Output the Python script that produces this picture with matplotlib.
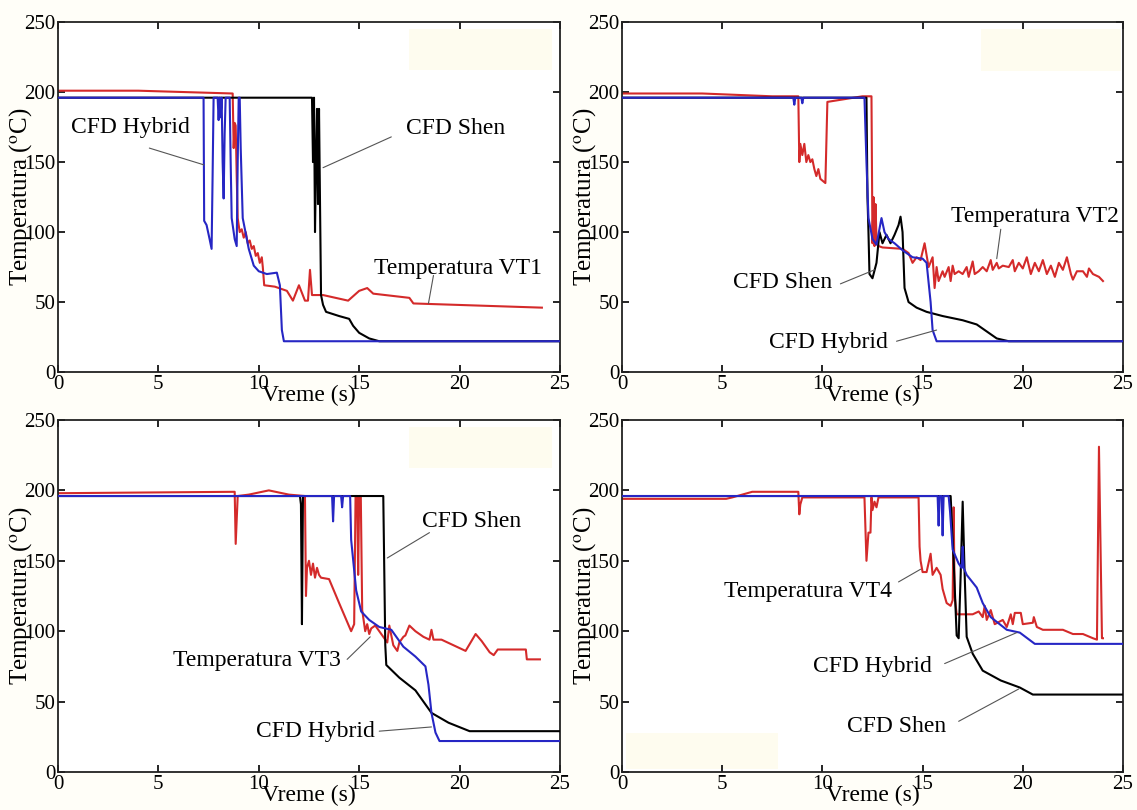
import numpy as np
import matplotlib
matplotlib.use('Agg')
import matplotlib.pyplot as plt
from matplotlib.patches import Rectangle

plt.rcParams['font.family'] = ['Liberation Serif', 'DejaVu Serif']
plt.rcParams['mathtext.fontset'] = 'stix'

# ---- panel 1 (VT1) ----
t1_red = [0, 4, 8.7, 8.75, 8.8, 8.85, 8.9, 8.95, 9.05, 9.15, 9.25, 9.35, 9.45, 9.55, 9.65, 9.75,
          9.85, 9.95, 10.05, 10.15, 10.2, 10.27, 10.8, 11.4, 11.7, 12.0, 12.3, 12.45, 12.55, 12.65,
          13.2, 14.45, 15.0, 15.4, 15.7, 17.5, 17.7, 24.1]
y1_red = [201, 201, 199, 160, 178, 176, 140, 110, 100, 102, 96, 100, 92, 94, 88, 90,
          83, 85, 78, 82, 75, 62, 61, 58, 51, 62, 51, 51, 73, 55,
          55, 51, 58, 60, 56, 53, 49, 46]
t1_blue = [0, 7.25, 7.28, 7.4, 7.55, 7.65, 7.7, 7.75, 7.95, 8.0, 8.05, 8.1, 8.15, 8.2, 8.25, 8.3,
           8.35, 8.55, 8.6, 8.65, 8.8, 8.9, 8.95, 9.0, 9.05, 9.1, 9.2, 9.5, 9.75, 10.0, 10.4,
           10.9, 11.05, 11.15, 11.25, 25]
y1_blue = [196, 196, 108, 105, 95, 88, 140, 196, 196, 180, 196, 182, 196, 150, 124, 170,
           196, 196, 150, 110, 95, 90, 150, 196, 196, 160, 110, 88, 76, 72, 70,
           71, 62, 30, 22, 22]
t1_black = [0, 12.65, 12.7, 12.75, 12.8, 12.85, 12.9, 12.95, 13.0, 13.05, 13.1, 13.2, 13.35,
            14.0, 14.5, 14.7, 15.0, 15.5, 16.0, 25]
y1_black = [196, 196, 150, 196, 100, 150, 188, 120, 188, 120, 55, 48, 43,
            40, 38, 33, 28, 24, 22, 22]

# ---- panel 2 (VT2) ----
t2_red = [0, 4, 7.5, 8.8, 8.85, 8.9, 9.0, 9.1, 9.2, 9.3, 9.4, 9.5, 9.6, 9.7, 9.8, 9.9, 10.15,
          10.25, 12.0, 12.45, 12.5, 12.55, 12.6, 12.65, 12.7, 12.8, 13.0, 14.0, 14.3, 14.5,
          14.7, 14.9, 15.1, 15.3, 15.5, 15.6, 15.7, 15.8, 16.0, 16.1, 16.3, 16.4, 16.5, 16.6,
          16.8, 17.0, 17.2, 17.3, 17.5, 17.6, 17.8, 18.0, 18.2, 18.4, 18.5, 18.7, 18.8, 19.0,
          19.3, 19.5, 19.6, 19.8, 20.0, 20.2, 20.4, 20.6, 20.8, 21.0, 21.2, 21.4, 21.6, 21.8,
          22.0, 22.2, 22.4, 22.5, 22.7, 23.0, 23.2, 23.3, 23.5, 23.8, 24.0]
y2_red = [199, 199, 197, 197, 150, 163, 155, 163, 150, 155, 150, 152, 145, 140, 145, 138, 135,
          193, 197, 197, 92, 125, 90, 120, 95, 90, 89, 88, 85, 78,
          82, 80, 92, 75, 82, 60, 75, 65, 72, 68, 75, 65, 76, 70,
          72, 70, 75, 68, 79, 70, 72, 75, 72, 80, 73, 78, 74, 76,
          75, 80, 72, 78, 74, 82, 70, 78, 72, 80, 70, 76, 68, 78,
          73, 82, 70, 66, 72, 72, 68, 74, 70, 68, 65]
t2_blue = [0, 8.55, 8.6, 8.65, 8.95, 9.0, 9.05, 12.1, 12.2, 12.3, 12.5, 12.7, 12.95, 13.1,
           13.3, 13.6, 14.0, 14.5, 15.0, 15.2, 15.4, 15.5, 15.7, 25]
y2_blue = [196, 196, 191, 196, 196, 192, 196, 196, 150, 110, 95, 91, 110, 100,
           95, 92, 87, 82, 81, 78, 50, 30, 22, 22]
t2_black = [0, 12.2, 12.25, 12.3, 12.35, 12.5, 12.7, 12.85, 13.0, 13.2, 13.4, 13.6, 13.8, 13.9,
            14.0, 14.1, 14.3, 14.7, 15.2, 16.0, 17.0, 17.7, 18.2, 18.7, 19.3, 25]
y2_black = [196, 196, 125, 100, 70, 67, 78, 100, 92, 98, 92, 98, 105, 111,
            100, 60, 50, 46, 43, 40, 37, 34, 29, 24, 22, 22]

# ---- panel 3 (VT3) ----
t3_red = [0, 8.8, 8.85, 8.95, 9.5, 10.5, 11.5, 12.3, 12.35, 12.4, 12.5, 12.6, 12.7, 12.8, 12.9,
          13.0, 13.1, 13.5, 14.0, 14.3, 14.6, 14.75, 14.82, 14.9, 14.95, 15.0, 15.08, 15.15,
          15.3, 15.4, 15.5, 15.6, 15.8, 16.0, 16.2, 16.4, 16.5, 16.7, 16.9, 17.0, 17.2, 17.3,
          17.5, 17.8, 18.2, 18.5, 18.6, 18.7, 19.1, 20.0, 20.3, 20.8, 21.1, 21.5, 21.7, 21.9,
          22.5, 23.3, 23.35, 24.0]
y3_red = [198, 199, 162, 196, 197, 200, 197, 196, 125, 145, 150, 140, 148, 138, 145,
          140, 138, 137, 120, 110, 100, 105, 196, 196, 140, 196, 196, 115,
          100, 105, 98, 102, 104, 100, 96, 92, 104, 90, 86, 92, 96, 97,
          104, 100, 96, 94, 101, 94, 94, 88, 86, 98, 93, 85, 83, 87,
          87, 87, 80, 80]
t3_blue = [0, 13.65, 13.7, 13.75, 14.1, 14.15, 14.2, 14.55, 14.6, 14.85, 15.1, 15.5, 16.0,
           16.6, 17.2, 17.8, 18.3, 18.45, 18.6, 18.8, 19.0, 25]
y3_blue = [196, 196, 178, 196, 196, 188, 196, 196, 165, 129, 114, 108, 103,
           101, 89, 82, 75, 62, 42, 28, 22, 22]
t3_black = [0, 12.05, 12.1, 12.15, 12.2, 12.25, 16.2, 16.3, 16.35, 17.0, 17.8, 18.6, 19.45,
            20.5, 25]
y3_black = [196, 196, 190, 105, 196, 196, 196, 90, 76, 67, 58, 42, 35,
            29, 29]

# ---- panel 4 (VT4) ----
t4_red = [0, 5.2, 5.5, 6.0, 6.5, 8.8, 8.85, 8.9, 9.0, 12.1, 12.2, 12.3, 12.4, 12.45, 12.5,
          12.6, 12.7, 12.8, 14.8, 14.85, 14.9, 15.0, 15.2, 15.4, 15.5, 15.7, 15.9, 16.0, 16.2,
          16.4, 16.5, 16.55, 16.6, 16.7, 17.5, 17.8, 18.0, 18.1, 18.2, 18.4, 18.6, 19.0, 19.2,
          19.4, 19.5, 19.6, 19.9, 20.0, 20.5, 20.55, 20.7, 21.0, 22.0, 22.5, 23.0, 23.5, 23.7,
          23.8, 23.95, 24.0]
y4_red = [194, 194, 195, 197, 199, 199, 183, 190, 195, 195, 150, 170, 170, 195, 186,
          192, 188, 195, 195, 160, 150, 142, 142, 155, 140, 145, 140, 130, 120,
          118, 122, 188, 125, 112, 112, 114, 110, 118, 108, 115, 105, 108, 103,
          112, 105, 113, 113, 105, 106, 110, 103, 101, 101, 98, 98, 95, 94,
          231, 95, 95]
t4_blue = [0, 15.75, 15.8, 15.85, 15.95, 16.0, 16.05, 16.3, 16.37, 16.5, 16.8, 16.95, 17.0,
           17.05, 17.2, 17.7, 18.0, 18.4, 19.2, 19.85, 20.6, 25]
y4_blue = [196, 196, 175, 196, 196, 168, 196, 196, 185, 158, 148, 145, 160,
           145, 140, 131, 120, 110, 101, 99, 91, 91]
t4_black = [0, 16.4, 16.55, 16.7, 16.8, 16.9, 17.0, 17.1, 17.2, 17.5, 18.0, 18.9, 19.85, 20.5, 25]
y4_black = [196, 196, 150, 97, 95, 140, 192, 140, 96, 84, 72, 65, 60, 55, 55]

# annotations: label, text position, leader start, leader end
notes1 = [("CFD Hybrid", (3.6, 175), (4.55, 160), (7.27, 148)),
          ("CFD Shen", (19.8, 174), (16.6, 168), (13.2, 146)),
          ("Temperatura VT1", (19.9, 74), (18.7, 69), (18.45, 49))]
notes2 = [("Temperatura VT2", (20.6, 111), (18.9, 102), (18.7, 81)),
          ("CFD Shen", (8.0, 64), (10.9, 63), (12.6, 73)),
          ("CFD Hybrid", (10.3, 21), (13.7, 22), (15.7, 30))]
notes3 = [("CFD Shen", (20.6, 178), (18.5, 170), (16.4, 152)),
          ("Temperatura VT3", (9.9, 79), (14.4, 80), (15.55, 96)),
          ("CFD Hybrid", (12.8, 29), (16.0, 29), (18.6, 32))]
notes4 = [("Temperatura VT4", (9.3, 128), (13.8, 135), (14.9, 144)),
          ("CFD Hybrid", (12.5, 75), (16.1, 77), (19.7, 99)),
          ("CFD Shen", (13.7, 32), (16.8, 36), (19.8, 59))]

# faint leftover legend patches (x0, x1, y0, y1)
boxes = [(17.5, 24.6, 216, 245), (17.9, 24.9, 215, 245), (17.5, 24.6, 216, 245), (0.2, 7.8, 2, 28)]

panels = [
    (t1_red, y1_red, t1_blue, y1_blue, t1_black, y1_black, notes1),
    (t2_red, y2_red, t2_blue, y2_blue, t2_black, y2_black, notes2),
    (t3_red, y3_red, t3_blue, y3_blue, t3_black, y3_black, notes3),
    (t4_red, y4_red, t4_blue, y4_blue, t4_black, y4_black, notes4),
]
rects = [(0.051, 0.5407, 0.4415, 0.432), (0.547, 0.5407, 0.4407, 0.432),
         (0.051, 0.0469, 0.4415, 0.4346), (0.547, 0.0469, 0.4407, 0.4346)]

fig = plt.figure(figsize=(11.37, 8.10), dpi=100, facecolor='#fffef8')

for i, (tr, yr, tb, yb, tk, yk, notes) in enumerate(panels):
    ax = fig.add_axes(rects[i])
    x0, x1, b0, b1 = boxes[i]
    ax.add_patch(Rectangle((x0, b0), x1 - x0, b1 - b0, color='#fefcef', lw=0, zorder=0))
    ax.plot(tk, yk, color='black', lw=1.5, zorder=3)
    ax.plot(tr, yr, color='#d42a2a', lw=1.5, zorder=2)
    ax.plot(tb, yb, color='#2626c4', lw=1.5, zorder=4)
    for label, txy, p0, p1 in notes:
        ax.text(txy[0], txy[1], label, fontsize=17, ha='center', va='center', zorder=6)
        ax.annotate('', xy=p1, xytext=p0,
                    arrowprops=dict(arrowstyle='-', color='#555555', lw=0.8,
                                    shrinkA=0, shrinkB=0), zorder=5)
    ax.set_xlim(0, 25)
    ax.set_ylim(0, 250)
    ax.set_xticks(np.arange(0, 26, 5))
    ax.set_yticks(np.arange(0, 251, 50))
    ax.tick_params(direction='in', top=True, right=True, length=5, width=1.2,
                   labelsize=15, pad=2)
    for s in ax.spines.values():
        s.set_linewidth(1.3)
        s.set_color('#222222')
    ax.set_xlabel('Vreme (s)', fontsize=17, va='center')
    ax.xaxis.set_label_coords(0.5, -0.068)
    ax.set_ylabel('Temperatura ($^{\\rm o}$C)', fontsize=18)
    ax.yaxis.set_label_coords(-0.047, 0.5)

fig.savefig('out.png', dpi=100, facecolor=fig.get_facecolor())
